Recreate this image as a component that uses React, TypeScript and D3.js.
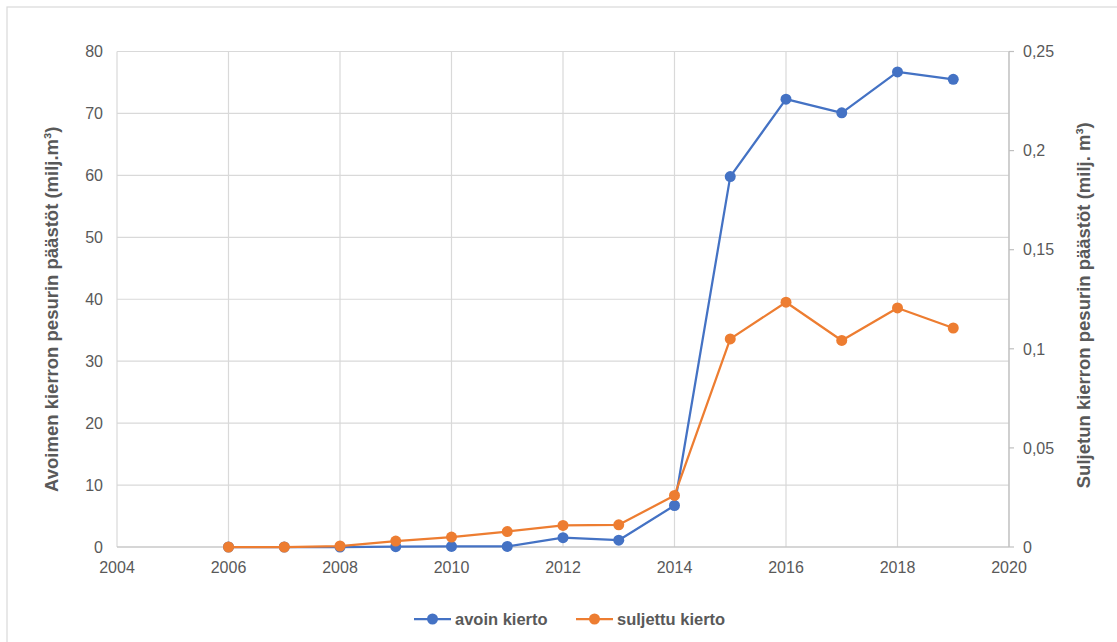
import React from "react";
import * as d3 from "d3";

const years = [2006, 2007, 2008, 2009, 2010, 2011, 2012, 2013, 2014, 2015, 2016, 2017, 2018, 2019];
const avoinKierto = [0, 0, 0, 0.05, 0.1, 0.1, 1.5, 1.1, 6.7, 59.8, 72.3, 70.1, 76.7, 75.5];
const suljettuKierto = [0, 0, 0.0005, 0.003, 0.005, 0.0078, 0.0109, 0.0112, 0.026, 0.105, 0.1235, 0.1042, 0.1206, 0.1105];
const xTicks = [2004, 2006, 2008, 2010, 2012, 2014, 2016, 2018, 2020];
const leftTicks = [0, 10, 20, 30, 40, 50, 60, 70, 80];
const rightTicks = [0, 0.05, 0.1, 0.15, 0.2, 0.25];
const rightTickLabels = ["0", "0,05", "0,1", "0,15", "0,2", "0,25"];
const leftTitle = "Avoimen kierron pesurin päästöt (milj.m³)";
const rightTitle = "Suljetun kierron pesurin päästöt (milj. m³)";
const seriesNames = ["avoin kierto", "suljettu kierto"];

const W = 1117;
const H = 642;
const left = 117;
const right = 1009;
const top = 51.5;
const bottom = 547;
const BLUE = "#4472C4";
const ORANGE = "#ED7D31";
const GRID = "#d9d9d9";
const TEXT = "#595959";
const FONT = "'Liberation Sans', Arial, sans-serif";

export default function App() {
  const x = d3.scaleLinear().domain([2004, 2020]).range([left, right]);
  const yL = d3.scaleLinear().domain([0, 80]).range([bottom, top]);
  const yR = d3.scaleLinear().domain([0, 0.25]).range([bottom, top]);

  const lineL = d3.line<number>().x((_, i) => x(years[i])).y((d) => yL(d));
  const lineR = d3.line<number>().x((_, i) => x(years[i])).y((d) => yR(d));

  const midY = (top + bottom) / 2;

  return (
    <svg
      width={W}
      height={H}
      style={{ position: "absolute", left: 0, top: 0, background: "#fff" }}
      fontFamily={FONT}
    >
      <rect x={7} y={7} width={W} height={H} fill="#fff" stroke={GRID} strokeWidth={1.2} />
      {leftTicks.map((t) => (
        <line key={"h" + t} x1={left} x2={right} y1={yL(t)} y2={yL(t)} stroke={GRID} strokeWidth={1.2} />
      ))}
      {xTicks.map((t) => (
        <line key={"v" + t} x1={x(t)} x2={x(t)} y1={top} y2={bottom} stroke={GRID} strokeWidth={1.2} />
      ))}
      <line x1={right} x2={right} y1={top} y2={bottom} stroke="#bfbfbf" strokeWidth={1.2} />
      {rightTicks.map((t) => (
        <line key={"rt" + t} x1={right} x2={right + 5} y1={yR(t)} y2={yR(t)} stroke="#bfbfbf" strokeWidth={1.2} />
      ))}
      <line x1={left} x2={right} y1={bottom} y2={bottom} stroke="#bfbfbf" strokeWidth={1.2} />

      {leftTicks.map((t) => (
        <text key={"lt" + t} x={103} y={yL(t)} dy="0.36em" textAnchor="end" fontSize={16} fill={TEXT}>
          {t}
        </text>
      ))}
      {rightTicks.map((t, i) => (
        <text key={"rl" + t} x={1023} y={yR(t)} dy="0.36em" textAnchor="start" fontSize={16} fill={TEXT}>
          {rightTickLabels[i]}
        </text>
      ))}
      {xTicks.map((t) => (
        <text key={"xl" + t} x={x(t)} y={573} textAnchor="middle" fontSize={16} fill={TEXT}>
          {t}
        </text>
      ))}

      <text
        transform={`translate(52,${midY + 10}) rotate(-90)`}
        textAnchor="middle"
        dy="0.35em"
        fontSize={18.5}
        fontWeight="bold"
        fill={TEXT}
      >
        {leftTitle}
      </text>
      <text
        transform={`translate(1084,${midY + 6}) rotate(-90)`}
        textAnchor="middle"
        dy="0.35em"
        fontSize={18.5}
        fontWeight="bold"
        fill={TEXT}
      >
        {rightTitle}
      </text>

      <path d={lineL(avoinKierto) || ""} fill="none" stroke={BLUE} strokeWidth={2.25} strokeLinejoin="round" />
      {avoinKierto.map((v, i) => (
        <circle key={"b" + i} cx={x(years[i])} cy={yL(v)} r={5.5} fill={BLUE} />
      ))}
      <path d={lineR(suljettuKierto) || ""} fill="none" stroke={ORANGE} strokeWidth={2.25} strokeLinejoin="round" />
      {suljettuKierto.map((v, i) => (
        <circle key={"o" + i} cx={x(years[i])} cy={yR(v)} r={5.5} fill={ORANGE} />
      ))}

      <g>
        <line x1={414} x2={451} y1={619} y2={619} stroke={BLUE} strokeWidth={2.25} />
        <circle cx={432.5} cy={619} r={5.5} fill={BLUE} />
        <text x={455} y={619} dy="0.36em" fontSize={16.5} fontWeight="bold" fill={TEXT}>
          {seriesNames[0]}
        </text>
        <line x1={576} x2={613} y1={619} y2={619} stroke={ORANGE} strokeWidth={2.25} />
        <circle cx={594.5} cy={619} r={5.5} fill={ORANGE} />
        <text x={617} y={619} dy="0.36em" fontSize={16.5} fontWeight="bold" fill={TEXT}>
          {seriesNames[1]}
        </text>
      </g>
    </svg>
  );
}
